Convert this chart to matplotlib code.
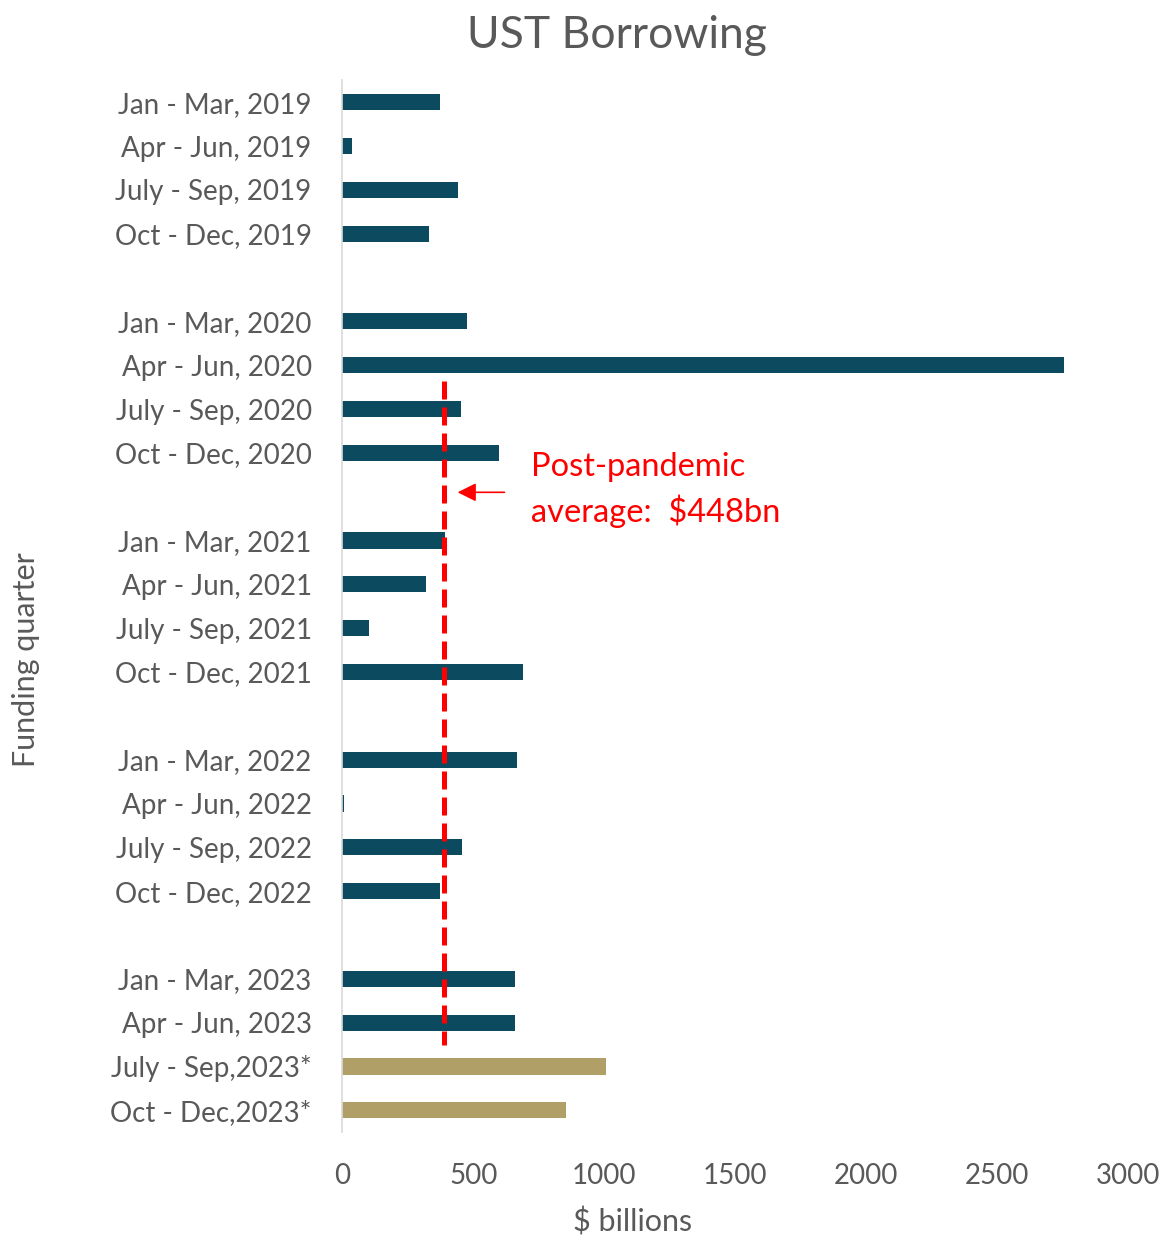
import numpy as np
import matplotlib
matplotlib.use("Agg")
import matplotlib.pyplot as plt

plt.rcParams['font.family'] = ['Lato', 'DejaVu Sans']

# quarters, with blank slots between years
quarters = ['Jan - Mar, 2019', 'Apr - Jun, 2019', 'July - Sep, 2019', 'Oct - Dec, 2019', '',
            'Jan - Mar, 2020', 'Apr - Jun, 2020', 'July - Sep, 2020', 'Oct - Dec, 2020', '',
            'Jan - Mar, 2021', 'Apr - Jun, 2021', 'July - Sep, 2021', 'Oct - Dec, 2021', '',
            'Jan - Mar, 2022', 'Apr - Jun, 2022', 'July - Sep, 2022', 'Oct - Dec, 2022', '',
            'Jan - Mar, 2023', 'Apr - Jun, 2023', 'July - Sep,2023*', 'Oct - Dec,2023*']
borrowing = [374, 38, 443, 332, np.nan,
             477, 2756, 454, 599, np.nan,
             393, 321, 103, 691, np.nan,
             668, 8, 458, 374, np.nan,
             660, 660, 1008, 855]
estimate = [False] * 22 + [True, True]
avg_line = 390
avg_label = 'Post-pandemic\naverage:  $448bn'
x_ticks = [0, 500, 1000, 1500, 2000, 2500, 3000]

navy = '#0B4A5F'
gold = '#B09F66'
grey = '#595959'
red = '#FF0000'

fig = plt.figure(figsize=(11.64, 12.36), dpi=100)
ax = fig.add_axes([0.294, 0.084, 0.675, 0.851])

y = np.arange(len(quarters))
colors = [gold if e else navy for e in estimate]
ax.barh(y, np.nan_to_num(borrowing), height=0.37, color=colors)

ax.vlines(avg_line, 6.35, 21.5, colors=red, linewidth=3.6, linestyles=(0, (3.6, 1.6)))
ax.annotate('', xy=(430, 8.9), xytext=(630, 8.9),
            arrowprops=dict(arrowstyle='-|>', color=red, lw=1.2, mutation_scale=28))
ax.text(721, 8.85, avg_label, color=red, fontsize=23.5, va='center', ha='left', linespacing=1.45)

ax.set_xlim(0, 3000)
ax.set_ylim(23.5, -0.5)
ax.set_yticks(y)
ax.set_yticklabels(quarters)
ax.set_xticks(x_ticks)
ax.tick_params(axis='both', length=0, labelsize=20, labelcolor=grey)
ax.tick_params(axis='x', pad=22)
ax.tick_params(axis='y', pad=22)
for s in ['top', 'right', 'bottom']:
    ax.spines[s].set_visible(False)
ax.spines['left'].set_color('#D9D9D9')
ax.spines['left'].set_linewidth(1.2)

ax.set_ylabel('Funding quarter', fontsize=22, color=grey, va='center')
ax.yaxis.set_label_coords(-0.403, 0.449)
ax.set_xlabel('$ billions', fontsize=22, color=grey, va='center')
ax.xaxis.set_label_coords(0.37, -0.085)

fig.text(617 / 1164, 1 - 35 / 1236, 'UST Borrowing', fontsize=32, color=grey,
         ha='center', va='center')

fig.savefig('out.png', dpi=100)
